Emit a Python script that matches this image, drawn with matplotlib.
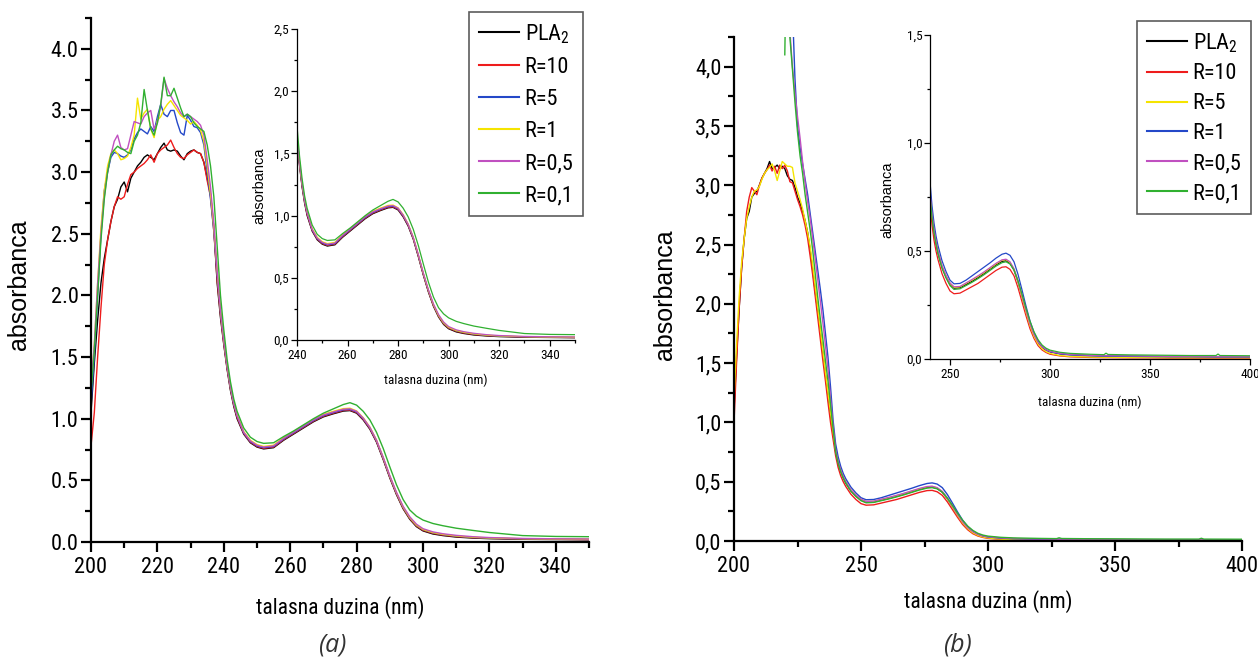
import numpy as np
import matplotlib.pyplot as plt
from matplotlib import font_manager as fm
from matplotlib.ticker import MultipleLocator, FuncFormatter

W, H = 1258, 657
NAN = float('nan')


def installed(name):
    try:
        fm.findfont(fm.FontProperties(family=name), fallback_to_default=False)
        return True
    except ValueError:
        return False


# the original uses a narrow Arial; use a narrow face when one is present
NARROW_NAME = next((n for n in ['Liberation Sans Narrow', 'Arial Narrow',
                                'Roboto Condensed', 'Open Sans Condensed']
                    if installed(n)), None)
HAS_NARROW = NARROW_NAME is not None
NARROW = ([NARROW_NAME] if HAS_NARROW else []) + ['Liberation Sans', 'DejaVu Sans']
ARIAL = ['Liberation Sans', 'DejaVu Sans']

plt.rcParams['font.family'] = NARROW
plt.rcParams['mathtext.fontset'] = 'custom'
plt.rcParams['mathtext.rm'] = NARROW[0]

# font sizes (pt), larger when the narrow face exists
TICK = 16 if HAS_NARROW else 14
XLAB = 15.5 if HAS_NARROW else 14.5
LEG = 16 if HAS_NARROW else 14
INS_TICK = 9.5 if HAS_NARROW else 9
INS_XLAB = 9.5 if HAS_NARROW else 8.5

# ---- series names and colours ----
LABELS = ['PLA$_2$', 'R=10', 'R=5', 'R=1', 'R=0,5', 'R=0,1']
COLORS_A = ['#000000', '#ee1c1c', '#2448c8', '#f5e400', '#c050c0', '#30b030']
COLORS_B = ['#000000', '#ee1c1c', '#f5e400', '#2448c8', '#c050c0', '#30b030']

# ---- panel (a): wavelengths (nm) ----
A_WL = [200, 201, 202, 203, 204, 205, 206, 207, 208, 209, 210, 211, 212, 213,
        214, 215, 216, 217, 218, 219, 220, 221, 222, 223, 224, 225, 226, 227,
        228, 229, 230, 231, 232, 233, 234, 235, 236, 237,
        238, 239, 240, 241, 242, 243, 244, 246, 248, 250, 252, 255, 258, 261,
        264, 267, 270, 273, 276, 278, 280, 282, 284, 286, 288, 290, 292, 294,
        296, 298, 300, 303, 306, 310, 315, 320, 330, 340, 350]

a_pla2 = [1.05, 1.45, 1.8, 2.1, 2.3, 2.45, 2.6, 2.72, 2.78, 2.88, 2.92, 2.84, 2.95,
          3.0, 3.05, 3.08, 3.12, 3.14, 3.12, 3.1, 3.15, 3.2, 3.235, 3.18, 3.17,
          3.18, 3.17, 3.13, 3.1, 3.15, 3.17, 3.18, 3.16, 3.15, 3.08, 2.95, 2.82, 2.55,
          2.1, 1.82, 1.6, 1.4, 1.23, 1.1, 1.0, 0.875, 0.805, 0.77, 0.755,
          0.765, 0.825, 0.875, 0.925, 0.975, 1.015, 1.04, 1.062,
          1.066, 1.045, 0.99, 0.915, 0.81, 0.67, 0.52, 0.385, 0.27, 0.185, 0.125, 0.09,
          0.065, 0.052, 0.04, 0.032, 0.027, 0.022, 0.02, 0.018]
a_r10 = [0.78, 1.05, 1.5, 1.9, 2.25, 2.45, 2.6, 2.72, 2.8, 2.78, 2.8, 2.9, 2.98,
         3.0, 3.03, 3.05, 3.07, 3.1, 3.14, 3.08, 3.15, 3.18, 3.2, 3.22, 3.26,
         3.2, 3.15, 3.12, 3.11, 3.14, 3.16, 3.18, 3.16, 3.15, 3.08, 2.93, 2.8, 2.52,
         2.12, 1.84, 1.61, 1.41, 1.24, 1.11, 1.01, 0.88, 0.81, 0.775, 0.76,
         0.77, 0.83, 0.88, 0.93, 0.98, 1.02, 1.045, 1.067,
         1.07, 1.05, 0.995, 0.92, 0.815, 0.675, 0.525, 0.39, 0.275, 0.19, 0.13, 0.095,
         0.07, 0.056, 0.044, 0.035, 0.03, 0.025, 0.022, 0.02]
a_r5 = [1.1, 1.5, 2.0, 2.5, 2.85, 3.0, 3.12, 3.16, 3.15, 3.13, 3.12, 3.14, 3.18,
        3.27, 3.32, 3.35, 3.33, 3.31, 3.37, 3.33, 3.45, 3.55, 3.47, 3.45, 3.5,
        3.5, 3.4, 3.32, 3.3, 3.46, 3.42, 3.37, 3.36, 3.32, 3.22, 3.0, 2.78, 2.52,
        2.16, 1.86, 1.63, 1.42, 1.25, 1.12, 1.02, 0.885, 0.815, 0.78, 0.765,
        0.775, 0.835, 0.885, 0.935, 0.985, 1.025, 1.05, 1.072,
        1.075, 1.055, 1.0, 0.925, 0.82, 0.68, 0.53, 0.395, 0.28, 0.195, 0.135, 0.1,
        0.074, 0.06, 0.047, 0.037, 0.031, 0.026, 0.023, 0.021]
a_r1 = [1.25, 1.6, 2.1, 2.55, 2.85, 3.05, 3.15, 3.18, 3.15, 3.1, 3.11, 3.13, 3.2,
        3.3, 3.6, 3.43, 3.48, 3.51, 3.35, 3.28, 3.42, 3.45, 3.51, 3.55, 3.58,
        3.54, 3.5, 3.46, 3.44, 3.42, 3.39, 3.41, 3.38, 3.34, 3.25, 3.05, 2.82, 2.55,
        2.2, 1.88, 1.64, 1.43, 1.26, 1.13, 1.03, 0.895, 0.825, 0.79, 0.775,
        0.785, 0.845, 0.895, 0.945, 0.995, 1.035, 1.06, 1.082,
        1.085, 1.063, 1.008, 0.932, 0.826, 0.686, 0.535, 0.4, 0.284, 0.198, 0.138, 0.102,
        0.076, 0.062, 0.049, 0.039, 0.033, 0.027, 0.024, 0.022]
a_r05 = [1.27, 1.6, 2.1, 2.5, 2.8, 3.0, 3.14, 3.25, 3.3, 3.2, 3.18, 3.19, 3.3,
         3.41, 3.4, 3.39, 3.45, 3.48, 3.5, 3.35, 3.4, 3.54, 3.76, 3.68, 3.62,
         3.57, 3.53, 3.48, 3.45, 3.47, 3.45, 3.43, 3.41, 3.38, 3.3, 3.1, 2.88, 2.58,
         2.2, 1.88, 1.64, 1.43, 1.26, 1.125, 1.025, 0.89, 0.82, 0.785, 0.77,
         0.78, 0.84, 0.89, 0.94, 0.99, 1.03, 1.055, 1.077,
         1.08, 1.06, 1.005, 0.93, 0.825, 0.688, 0.538, 0.404, 0.29, 0.205, 0.145, 0.108,
         0.082, 0.067, 0.054, 0.043, 0.036, 0.029, 0.026, 0.024]
a_r01 = [1.2, 1.55, 2.0, 2.45, 2.78, 3.0, 3.14, 3.18, 3.21, 3.19, 3.18, 3.16, 3.15,
         3.25, 3.3, 3.4, 3.67, 3.5, 3.35, 3.3, 3.4, 3.55, 3.77, 3.62, 3.62,
         3.68, 3.6, 3.52, 3.45, 3.47, 3.45, 3.4, 3.37, 3.35, 3.33, 3.22, 3.05, 2.8,
         2.4, 2.0, 1.72, 1.48, 1.3, 1.16, 1.06, 0.925, 0.85, 0.815, 0.8,
         0.805, 0.855, 0.9, 0.95, 1.0, 1.045, 1.08, 1.115,
         1.13, 1.11, 1.06, 0.99, 0.89, 0.76, 0.61, 0.465, 0.345, 0.26, 0.21, 0.178,
         0.15, 0.132, 0.112, 0.094, 0.077, 0.052, 0.045, 0.043]

# ---- panel (b): wavelengths (nm) ----
B_WL = [200, 201, 202, 203, 204, 205, 206, 207, 208, 209, 210, 211, 212, 213,
        214, 215, 216, 217, 218, 219, 220, 221, 222, 223, 224, 225, 226, 227,
        228, 229, 230, 231, 232, 233, 234, 235, 236, 237,
        238, 239, 240, 241, 242, 243, 244, 246, 248, 250, 252, 255, 258, 261,
        264, 267, 270, 273, 276, 278, 280, 282, 284, 286, 288, 290, 292, 294,
        296, 298, 300, 305, 310, 320, 327, 328, 329, 340, 350, 360, 370, 383,
        384, 385, 400]

b_pla2 = [1.1, 1.55, 1.95, 2.3, 2.55, 2.72, 2.78, 2.9, 2.93, 2.95, 3.0, 3.06, 3.1,
          3.14, 3.2, 3.14, 3.15, 3.17, 3.14, 3.16, 3.14, 3.08, 3.05, 3.04, 2.98,
          2.9, 2.85, 2.78, 2.7, 2.6, 2.45, 2.28, 2.1, 1.93, 1.76, 1.58, 1.4, 1.22,
          1.05, 0.9, 0.76, 0.66, 0.59, 0.535, 0.49, 0.425, 0.38, 0.345, 0.328,
          0.33, 0.345, 0.36, 0.377, 0.396, 0.416, 0.436, 0.452,
          0.455, 0.443, 0.412, 0.357, 0.29, 0.22, 0.158, 0.11, 0.076, 0.054, 0.041, 0.033,
          0.024, 0.02, 0.016, 0.014, 0.014, 0.014, 0.013, 0.012, 0.011, 0.011,
          0.01, 0.01, 0.01, 0.01]
b_r10 = [1.0, 1.5, 1.95, 2.3, 2.55, 2.78, 2.9, 2.98, 2.95, 2.92, 3.0, 3.06, 3.1,
         3.13, 3.17, 3.12, 3.16, 3.1, 3.17, 3.14, 3.17, 3.12, 3.03, 3.02, 2.95,
         2.88, 2.82, 2.75, 2.66, 2.55, 2.4, 2.24, 2.06, 1.88, 1.7, 1.52, 1.35, 1.17,
         1.0, 0.86, 0.72, 0.62, 0.55, 0.5, 0.46, 0.395, 0.35, 0.315, 0.302,
         0.305, 0.32, 0.335, 0.35, 0.37, 0.39, 0.41, 0.425,
         0.427, 0.415, 0.385, 0.33, 0.265, 0.2, 0.14, 0.095, 0.062, 0.042, 0.03, 0.022,
         0.014, 0.01, 0.007, 0.006, 0.006, 0.006, 0.005, 0.005, 0.004, 0.004,
         0.004, 0.004, 0.004, 0.004]
b_r5 = [1.2, 1.65, 2.05, 2.35, 2.55, 2.72, 2.82, 2.9, 2.95, 2.96, 2.99, 3.05, 3.1,
        3.13, 3.15, 3.18, 3.12, 3.04, 3.12, 3.2, 3.18, 3.16, 3.16, 3.15, 3.02,
        2.95, 2.88, 2.8, 2.7, 2.6, 2.48, 2.32, 2.14, 1.96, 1.78, 1.6, 1.42, 1.25,
        1.08, 0.92, 0.77, 0.67, 0.6, 0.545, 0.5, 0.43, 0.385, 0.35, 0.332,
        0.334, 0.35, 0.365, 0.382, 0.4, 0.42, 0.44, 0.457,
        0.46, 0.447, 0.415, 0.358, 0.288, 0.217, 0.154, 0.105, 0.07, 0.048, 0.034, 0.026,
        0.016, 0.012, 0.009, 0.008, 0.008, 0.008, 0.007, 0.007, 0.006, 0.006,
        0.006, 0.006, 0.006, 0.006]
# R=1, R=0,5 and R=0,1 are off scale (not recorded) below ~220 nm
b_r1 = [NAN] * 22 + [
        5.5, 4.5, 3.9, 3.5, 3.32, 3.18, 3.05, 2.92, 2.76, 2.6, 2.44, 2.28, 2.12,
        1.95, 1.75, 1.55,
        1.3, 1.02, 0.82, 0.71, 0.63, 0.57, 0.525, 0.455, 0.405, 0.365, 0.348,
        0.35, 0.365, 0.385, 0.405, 0.425, 0.445, 0.467, 0.485,
        0.49, 0.48, 0.45, 0.392, 0.32, 0.245, 0.176, 0.122, 0.084, 0.058, 0.043, 0.034,
        0.024, 0.019, 0.015, 0.013, 0.013, 0.013, 0.012, 0.011, 0.01, 0.01,
        0.009, 0.009, 0.009, 0.009]
b_r05 = [NAN] * 21 + [
         5.0, 4.3, 4.0, 3.78, 3.58, 3.4, 3.2, 3.02, 2.86, 2.72, 2.55, 2.38, 2.2,
         2.02, 1.84, 1.65, 1.45,
         1.2, 0.97, 0.77, 0.67, 0.6, 0.545, 0.5, 0.432, 0.387, 0.352, 0.334,
         0.336, 0.352, 0.368, 0.385, 0.403, 0.423, 0.443, 0.459,
         0.462, 0.45, 0.418, 0.362, 0.294, 0.224, 0.162, 0.113, 0.079, 0.057, 0.043, 0.035,
         0.026, 0.021, 0.017, 0.015, 0.015, 0.015, 0.014, 0.013, 0.012, 0.012,
         0.011, 0.011, 0.011, 0.011]
b_r01 = [NAN] * 20 + [
         4.1, 5.5, 4.25, 3.98, 3.7, 3.45, 3.25, 3.1, 2.92, 2.77, 2.62, 2.45, 2.25,
         2.05, 1.87, 1.7, 1.52, 1.35,
         1.15, 0.95, 0.75, 0.655, 0.585, 0.532, 0.488, 0.42, 0.375, 0.34, 0.322,
         0.325, 0.34, 0.355, 0.372, 0.39, 0.41, 0.43, 0.446,
         0.45, 0.44, 0.412, 0.362, 0.3, 0.235, 0.175, 0.126, 0.09, 0.065, 0.05, 0.041,
         0.031, 0.026, 0.022, 0.02, 0.027, 0.021, 0.019, 0.018, 0.017, 0.016,
         0.016, 0.023, 0.016, 0.015]

SERIES_A = [a_pla2, a_r10, a_r5, a_r1, a_r05, a_r01]
SERIES_B = [b_pla2, b_r10, b_r5, b_r1, b_r05, b_r01]


def comma(v, pos):
    return f'{v:.1f}'.replace('.', ',')


def dot(v, pos):
    return f'{v:.1f}'


def integer(v, pos):
    return f'{v:.0f}'


fig = plt.figure(figsize=(W / 100, H / 100), dpi=100)


def axes_px(x0, y0, x1, y1):
    return fig.add_axes([x0 / W, 1 - y1 / H, (x1 - x0) / W, (y1 - y0) / H])


def style(ax, lw, size, major, minor, xpad, ypad):
    for s in ('top', 'right'):
        ax.spines[s].set_visible(False)
    for s in ('left', 'bottom'):
        ax.spines[s].set_linewidth(lw)
    ax.tick_params(which='both', direction='out', width=lw, labelsize=size)
    ax.tick_params(which='major', length=major)
    ax.tick_params(which='minor', length=minor)
    ax.tick_params(axis='x', pad=xpad)
    ax.tick_params(axis='y', pad=ypad)
    ax.patch.set_alpha(0)


def draw(ax, wl, series, colors, lw):
    lines = []
    for ys, c in zip(series, colors):
        ln, = ax.plot(wl, np.array(ys, dtype=float), color=c, lw=lw)
        lines.append(ln)
    return lines


# ================= panel (a) =================
ax_a = axes_px(91, 18, 589, 542)
lines_a = draw(ax_a, A_WL, SERIES_A, COLORS_A, 1.0)
ax_a.set_xlim(200, 350)
ax_a.set_ylim(0, 4.25)
ax_a.xaxis.set_major_locator(MultipleLocator(20))
ax_a.xaxis.set_minor_locator(MultipleLocator(10))
ax_a.yaxis.set_major_locator(MultipleLocator(0.5))
ax_a.yaxis.set_minor_locator(MultipleLocator(0.25))
ax_a.xaxis.set_major_formatter(FuncFormatter(integer))
ax_a.yaxis.set_major_formatter(FuncFormatter(dot))
style(ax_a, 1.6, TICK, 7, 4, 4, 2)

ins_a = axes_px(297, 29, 575, 340)
draw(ins_a, A_WL, SERIES_A, COLORS_A, 0.9)
ins_a.set_xlim(240, 350)
ins_a.set_ylim(0, 2.5)
ins_a.xaxis.set_major_locator(MultipleLocator(20))
ins_a.xaxis.set_minor_locator(MultipleLocator(10))
ins_a.yaxis.set_major_locator(MultipleLocator(0.5))
ins_a.yaxis.set_minor_locator(MultipleLocator(0.25))
ins_a.xaxis.set_major_formatter(FuncFormatter(integer))
ins_a.yaxis.set_major_formatter(FuncFormatter(comma))
style(ins_a, 0.9, INS_TICK, 4, 2.5, 2.5, 1.5)

# ================= panel (b) =================
ax_b = axes_px(734, 37, 1242, 541)
lines_b = draw(ax_b, B_WL, SERIES_B, COLORS_B, 1.0)
ax_b.set_xlim(200, 400)
ax_b.set_ylim(0, 4.25)
ax_b.xaxis.set_major_locator(MultipleLocator(50))
ax_b.xaxis.set_minor_locator(MultipleLocator(25))
ax_b.yaxis.set_major_locator(MultipleLocator(0.5))
ax_b.yaxis.set_minor_locator(MultipleLocator(0.25))
ax_b.xaxis.set_major_formatter(FuncFormatter(integer))
ax_b.yaxis.set_major_formatter(FuncFormatter(comma))
style(ax_b, 1.6, TICK, 7, 4, 4, 2)

ins_b = axes_px(930, 35, 1250, 359)
draw(ins_b, B_WL, SERIES_B, COLORS_B, 0.9)
ins_b.set_xlim(240, 400)
ins_b.set_ylim(0, 1.5)
ins_b.xaxis.set_major_locator(MultipleLocator(50))
ins_b.xaxis.set_minor_locator(MultipleLocator(25))
ins_b.yaxis.set_major_locator(MultipleLocator(0.5))
ins_b.yaxis.set_minor_locator(MultipleLocator(0.25))
ins_b.xaxis.set_major_formatter(FuncFormatter(integer))
ins_b.yaxis.set_major_formatter(FuncFormatter(comma))
style(ins_b, 0.9, INS_TICK, 4, 2.5, 2.5, 1.5)


# ================= texts =================
def ftext(x, y, s, **kw):
    fig.text(x / W, 1 - y / H, s, ha='center', va='center', **kw)


ftext(340, 608, 'talasna duzina (nm)', fontsize=XLAB)
ftext(988, 602, 'talasna duzina (nm)', fontsize=XLAB)
ftext(19, 285, 'absorbanca', fontsize=18, rotation=90, family=ARIAL)
ftext(665, 295, 'absorbanca', fontsize=18, rotation=90, family=ARIAL)
ftext(436, 380, 'talasna duzina (nm)', fontsize=INS_XLAB)
ftext(1090, 402, 'talasna duzina (nm)', fontsize=INS_XLAB)
ftext(259, 186, 'absorbanca', fontsize=10.5, rotation=90, family=ARIAL)
ftext(887, 200, 'absorbanca', fontsize=10.5, rotation=90, family=ARIAL)
ftext(332, 645, '(a)', fontsize=18, style='italic', color='#333333',
      family=['Open Sans', 'DejaVu Sans'])
ftext(957, 645, '(b)', fontsize=18, style='italic', color='#333333',
      family=['Open Sans', 'DejaVu Sans'])

# ================= legends =================
for lines, x0, y0, gap in ((lines_a, 469, 12, 0.5), (lines_b, 1137, 21, 0.4)):
    leg = fig.legend(lines, LABELS, loc='upper left',
                     bbox_to_anchor=(x0 / W, 1 - y0 / H), borderaxespad=0,
                     frameon=True, fancybox=False, fontsize=LEG,
                     handlelength=1.8, handletextpad=0.25, labelspacing=gap,
                     borderpad=0.45)
    leg.get_frame().set_edgecolor('#333333')
    leg.get_frame().set_linewidth(1.2)
    for ln in leg.get_lines():
        ln.set_linewidth(1.5)

fig.savefig('out.png', dpi=100)
